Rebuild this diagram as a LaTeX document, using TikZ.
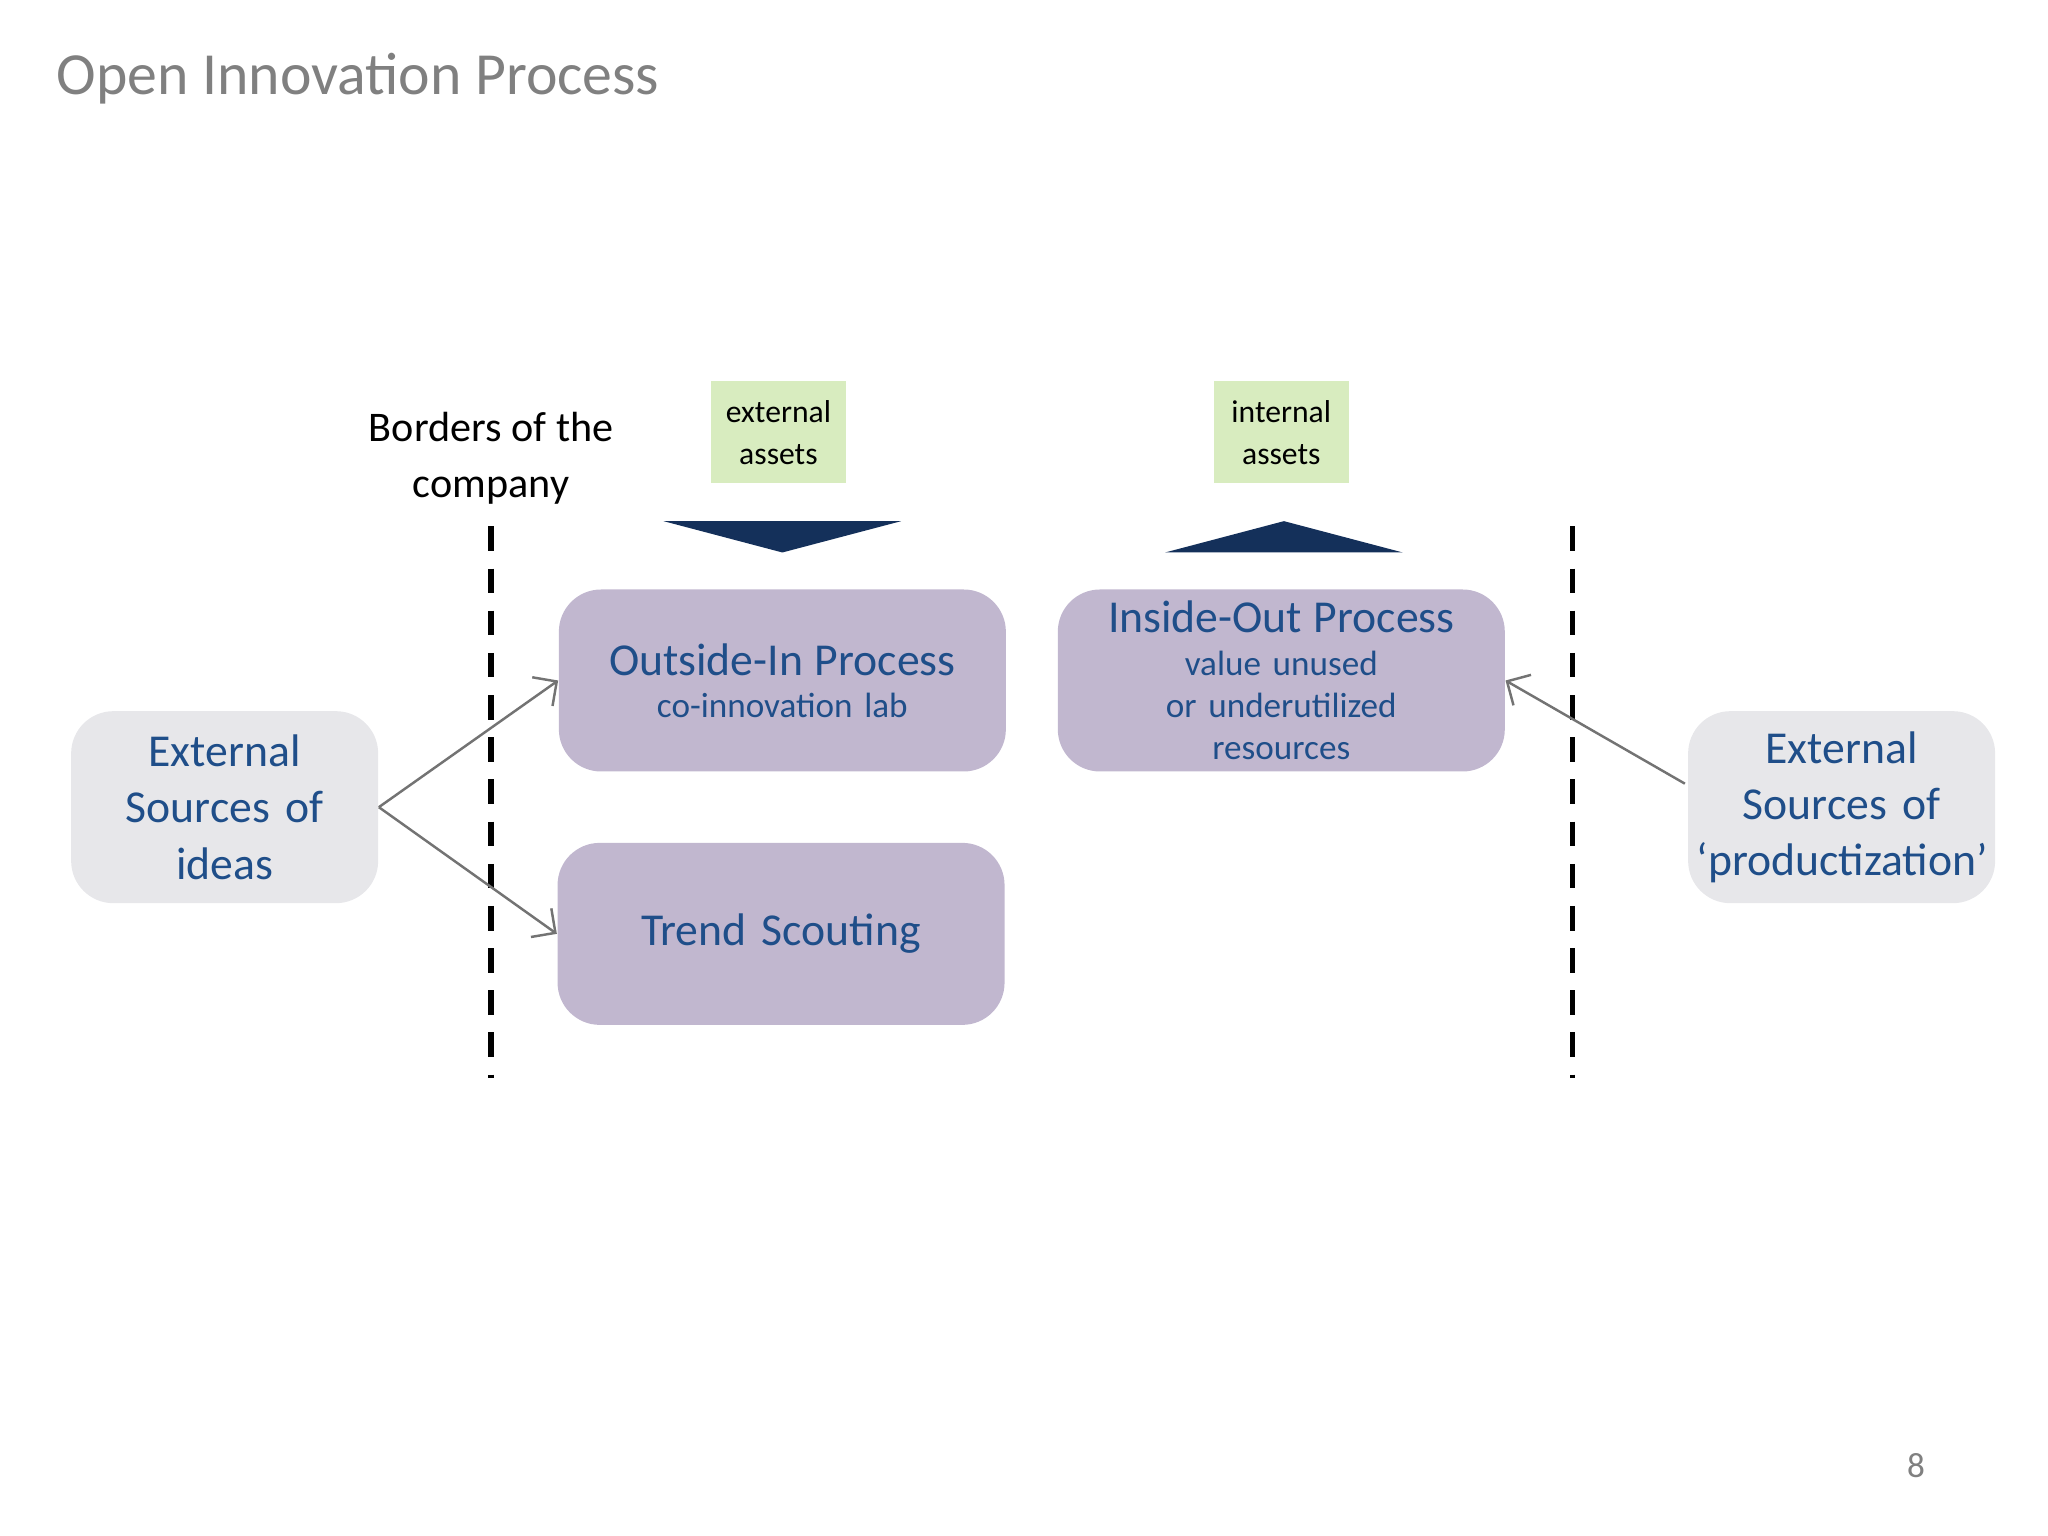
\documentclass[tikz,border=0pt]{standalone}
\usepackage{fontspec}
\setmainfont{Carlito}
\usetikzlibrary{positioning, arrows.meta}
\definecolor{txtblue}{HTML}{1F4E89}
\definecolor{lilac}{HTML}{C1B7CF}
\definecolor{pale}{HTML}{E7E7EA}
\definecolor{leaf}{HTML}{D8ECBF}
\definecolor{navy}{HTML}{14305A}
\tikzset{
	outer/.style	= {fill=pale, rounded corners=12pt, minimum width=3.07cm, minimum height=1.92cm, text width=2.9cm, inner sep=2pt, align=center, text=txtblue, font=\fontsize{13}{16}\selectfont},
	proc/.style		= {fill=lilac, rounded corners=12pt, minimum width=4.47cm, minimum height=1.82cm, text width=4.3cm, inner sep=2pt, align=center, text=txtblue},
	asset/.style	= {fill=leaf, minimum width=1.35cm, minimum height=1.02cm, align=center, font=\fontsize{9}{12}\selectfont},
	border/.style	= {line width=1.6pt, dash pattern=on 7pt off 5pt},
	flow/.style		= {-{Straight Barb[length=5pt]}, gray!90!black, line width=0.7pt}
}
\begin{document}
\begin{tikzpicture}[x=0.01306cm, y=-0.01306cm]
	\useasboundingbox	(0, 0) rectangle (1568, 1176);
	\node	(title)	at	(34, 60)	[anchor=west, text=gray, font=\fontsize{17}{20}\selectfont]	{Open Innovation Process};
	\node	(page)	at	(1467, 1122)	[text=gray, font=\fontsize{10}{12}\selectfont]	{8};

	\node	(extL)	at	(172, 618)	[outer]	{External\\Sources of\\ideas};
	\node	(extR)	at	(1410, 618)	[outer]	{External\\Sources of\\‘productization’};

	\node	(oi)	at	(599, 521)	[proc]	{{\fontsize{13}{17}\selectfont Outside-In Process}\\{\fontsize{10}{12}\selectfont co-innovation lab}};
	\node	(ts)	at	(598, 715)	[proc, font=\fontsize{13}{16}\selectfont]	{Trend Scouting};
	\node	(io)	at	(981, 521)	[proc]	{{\fontsize{13}{17}\selectfont Inside-Out Process}\\{\fontsize{10}{12}\selectfont value unused or underutilized\\resources}};

	\node	(ext)	at	(596, 331)	[asset]	{external\\assets};
	\node	(int)	at	(981, 331)	[asset]	{internal\\assets};
	\node	(bord)	at	(376, 351)	[align=center, font=\fontsize{12}{16}\selectfont]	{Borders of the\\company};

	\coordinate	(bL1)	at	(376, 403);
	\coordinate	(bL2)	at	(376, 825);
	\coordinate	(bR1)	at	(1204, 403);
	\coordinate	(bR2)	at	(1204, 825);
	\draw	[border]	(bL1) -- (bL2);
	\draw	[border]	(bR1) -- (bR2);

	\fill	[navy]	(508, 399) -- (690, 399) -- (599, 423) -- cycle;
	\fill	[navy]	(892, 423) -- (1074, 423) -- (983, 399) -- cycle;

	\coordinate	(extRin)	at	(1290, 600);
	\draw	[flow]	(extL.east) -- (oi.west);
	\draw	[flow]	(extL.east) -- (ts.west);
	\draw	[flow]	(extRin) -- (io.east);
\end{tikzpicture}
\end{document}
